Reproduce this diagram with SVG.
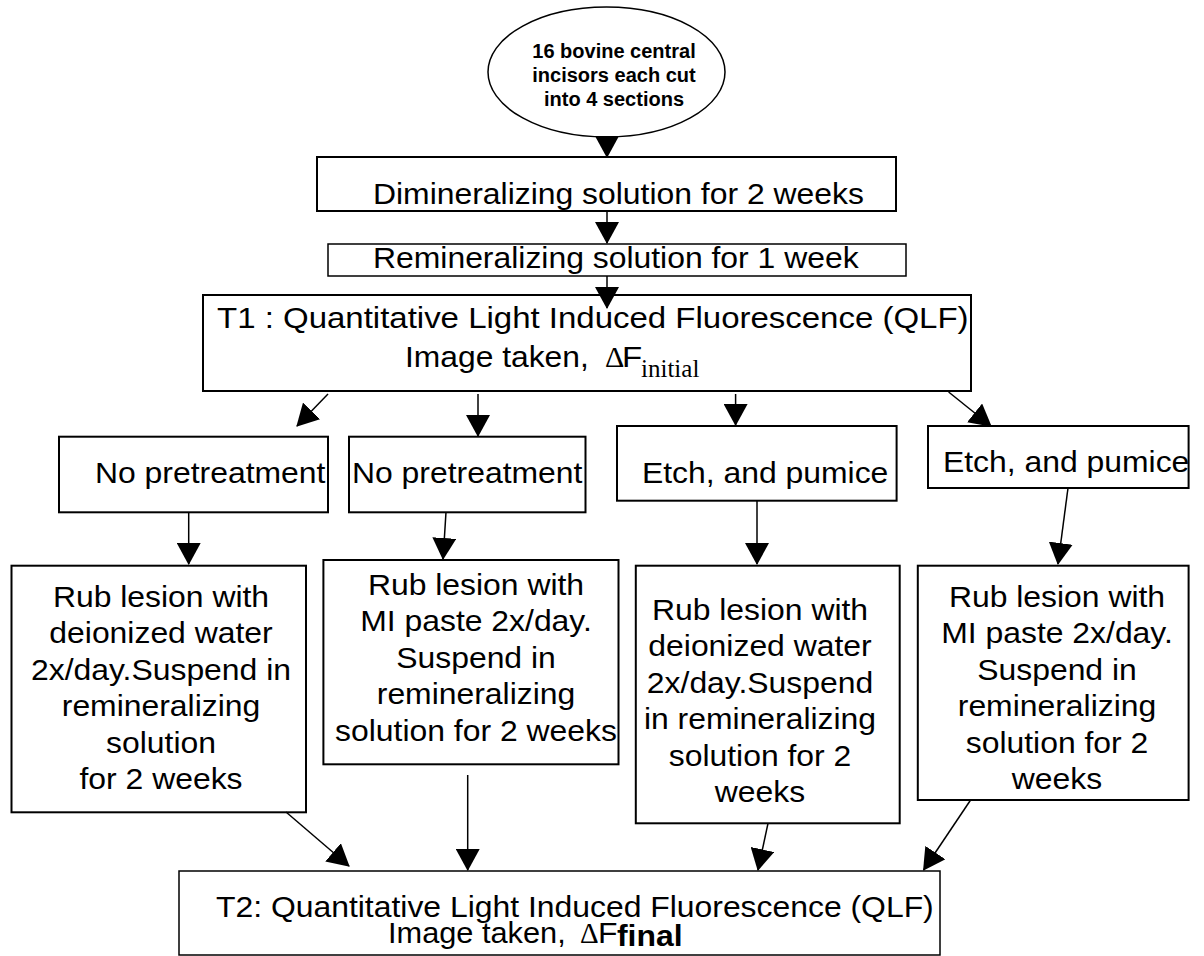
<svg xmlns="http://www.w3.org/2000/svg" width="1204" height="956" viewBox="0 0 1204 956">
<style>
.box{fill:#fff;stroke:#000;stroke-width:2}
.t{font-family:"Liberation Sans",Arial,sans-serif;font-size:29px;fill:#000}
.t30{font-family:"Liberation Sans",Arial,sans-serif;font-size:30px;fill:#000}
.e{font-family:"Liberation Sans",Arial,sans-serif;font-size:20px;font-weight:bold;fill:#000}
.s{font-family:"Liberation Serif","Times New Roman",serif;fill:#000}
.c line{stroke:#000;stroke-width:1.5;marker-end:url(#ah)}
</style>
<defs>
<marker id="ah" markerUnits="userSpaceOnUse" viewBox="0 0 22 24" markerWidth="22" markerHeight="24" refX="21" refY="12" orient="auto">
<path d="M0,0 L22,12 L0,24 z" fill="#000"/>
</marker>
</defs>
<rect width="1204" height="956" fill="#fff"/>

<g id="start">
<ellipse cx="606.5" cy="72" rx="118.5" ry="65" fill="#fff" stroke="#000" stroke-width="1.5"/>
<text class="e" text-anchor="middle"><tspan x="614" y="58">16 bovine central</tspan><tspan x="614" y="82">incisors each cut</tspan><tspan x="614" y="106">into 4 sections</tspan></text>
</g>

<g id="demin">
<rect class="box" x="317" y="157" width="579" height="54"/>
<text class="t" transform="matrix(1.1 0 0 1 373 204)">Dimineralizing solution for 2 weeks</text>
</g>

<g id="remin">
<rect class="box" x="328" y="244" width="578" height="32" style="stroke-width:1.5"/>
<text class="t" transform="matrix(1.1 0 0 1 373 268)">Remineralizing solution for 1 week</text>
</g>

<g id="t1">
<rect class="box" x="203" y="295" width="768" height="96"/>
<text class="t30" transform="matrix(1.1 0 0 1 217 328)">T1 : Quantitative Light Induced Fluorescence (QLF)</text>
<text class="t30" transform="matrix(1.06 0 0 1 405 367)">Image taken,</text>
<text class="s" x="605" y="367" font-size="30">Δ</text>
<text class="t30" transform="matrix(1.1 0 0 1 622 367)">F</text>
<text class="s" x="641" y="377" font-size="25">initial</text>
</g>

<g id="np1">
<rect class="box" x="59" y="436.7" width="269" height="75.6"/>
<text class="t" transform="matrix(1.1 0 0 1 95 483)">No pretreatment</text>
</g>

<g id="np2">
<rect class="box" x="349" y="436.7" width="236.5" height="75.6"/>
<text class="t" transform="matrix(1.1 0 0 1 352 483)">No pretreatment</text>
</g>

<g id="etch1">
<rect class="box" x="617" y="426" width="279.6" height="74.7"/>
<text class="t" transform="matrix(1.1 0 0 1 642 483)">Etch, and pumice</text>
</g>

<g id="etch2">
<rect class="box" x="928" y="426" width="260.6" height="62"/>
<text class="t" transform="matrix(1.1 0 0 1 943 472)">Etch, and pumice</text>
</g>

<g id="rub1">
<rect class="box" x="11.5" y="565.7" width="294.5" height="246.6"/>
<text class="t" text-anchor="middle" transform="matrix(1.1 0 0 1 161 0)"><tspan x="0" y="607">Rub lesion with</tspan><tspan x="0" y="643.5">deionized water</tspan><tspan x="0" y="680">2x/day.Suspend in</tspan><tspan x="0" y="716.5">remineralizing</tspan><tspan x="0" y="753">solution</tspan><tspan x="0" y="789.5">for 2 weeks</tspan></text>
</g>

<g id="rub2">
<rect class="box" x="323.4" y="560" width="295.1" height="204.3"/>
<text class="t" text-anchor="middle" transform="matrix(1.1 0 0 1 476 0)"><tspan x="0" y="595">Rub lesion with</tspan><tspan x="0" y="631.5">MI paste 2x/day.</tspan><tspan x="0" y="668">Suspend in</tspan><tspan x="0" y="704.5">remineralizing</tspan><tspan x="0" y="741">solution for 2 weeks</tspan></text>
</g>

<g id="rub3">
<rect class="box" x="635.8" y="565.7" width="263.9" height="257.6"/>
<text class="t" text-anchor="middle" transform="matrix(1.1 0 0 1 760 0)"><tspan x="0" y="620">Rub lesion with</tspan><tspan x="0" y="656.5">deionized water</tspan><tspan x="0" y="693">2x/day.Suspend</tspan><tspan x="0" y="729.5">in remineralizing</tspan><tspan x="0" y="766">solution for 2</tspan><tspan x="0" y="802.5">weeks</tspan></text>
</g>

<g id="rub4">
<rect class="box" x="917.8" y="565.7" width="270.8" height="234.3"/>
<text class="t" text-anchor="middle" transform="matrix(1.1 0 0 1 1057 0)"><tspan x="0" y="607">Rub lesion with</tspan><tspan x="0" y="643.5">MI paste 2x/day.</tspan><tspan x="0" y="680">Suspend in</tspan><tspan x="0" y="716.5">remineralizing</tspan><tspan x="0" y="753">solution for 2</tspan><tspan x="0" y="789.5">weeks</tspan></text>
</g>

<g id="t2">
<rect class="box" x="179" y="871" width="761" height="84" style="stroke-width:1.5"/>
<text class="t" transform="matrix(1.1 0 0 1 216 917)">T2: Quantitative Light Induced Fluorescence (QLF)</text>
<text class="t" transform="matrix(1.06 0 0 1 388 943)">Image taken,</text>
<text class="s" x="580" y="943" font-size="29">Δ</text>
<text class="t" transform="matrix(1.1 0 0 1 598 943)">F</text>
<text class="t" font-weight="bold" font-size="21" transform="matrix(1.1 0 0 1 617 946)">final</text>
</g>

<g id="connectors" class="c">
<line x1="607" y1="137" x2="607" y2="157"/>
<line x1="607" y1="211" x2="607" y2="243"/>
<line x1="607" y1="276" x2="607" y2="308"/>
<line x1="328" y1="394" x2="297" y2="426"/>
<line x1="478" y1="394" x2="478" y2="436"/>
<line x1="735.6" y1="394" x2="735.6" y2="425"/>
<line x1="948.6" y1="392" x2="991" y2="426"/>
<line x1="188.7" y1="512.3" x2="188.7" y2="564"/>
<line x1="446" y1="512.3" x2="443" y2="559"/>
<line x1="757" y1="500.7" x2="757" y2="564"/>
<line x1="1068" y1="488" x2="1058" y2="564"/>
<line x1="286" y1="812" x2="349" y2="866"/>
<line x1="467.7" y1="775" x2="467.7" y2="870"/>
<line x1="768" y1="823.3" x2="758" y2="870"/>
<line x1="970.6" y1="800" x2="923.6" y2="870"/>
</g>
</svg>
